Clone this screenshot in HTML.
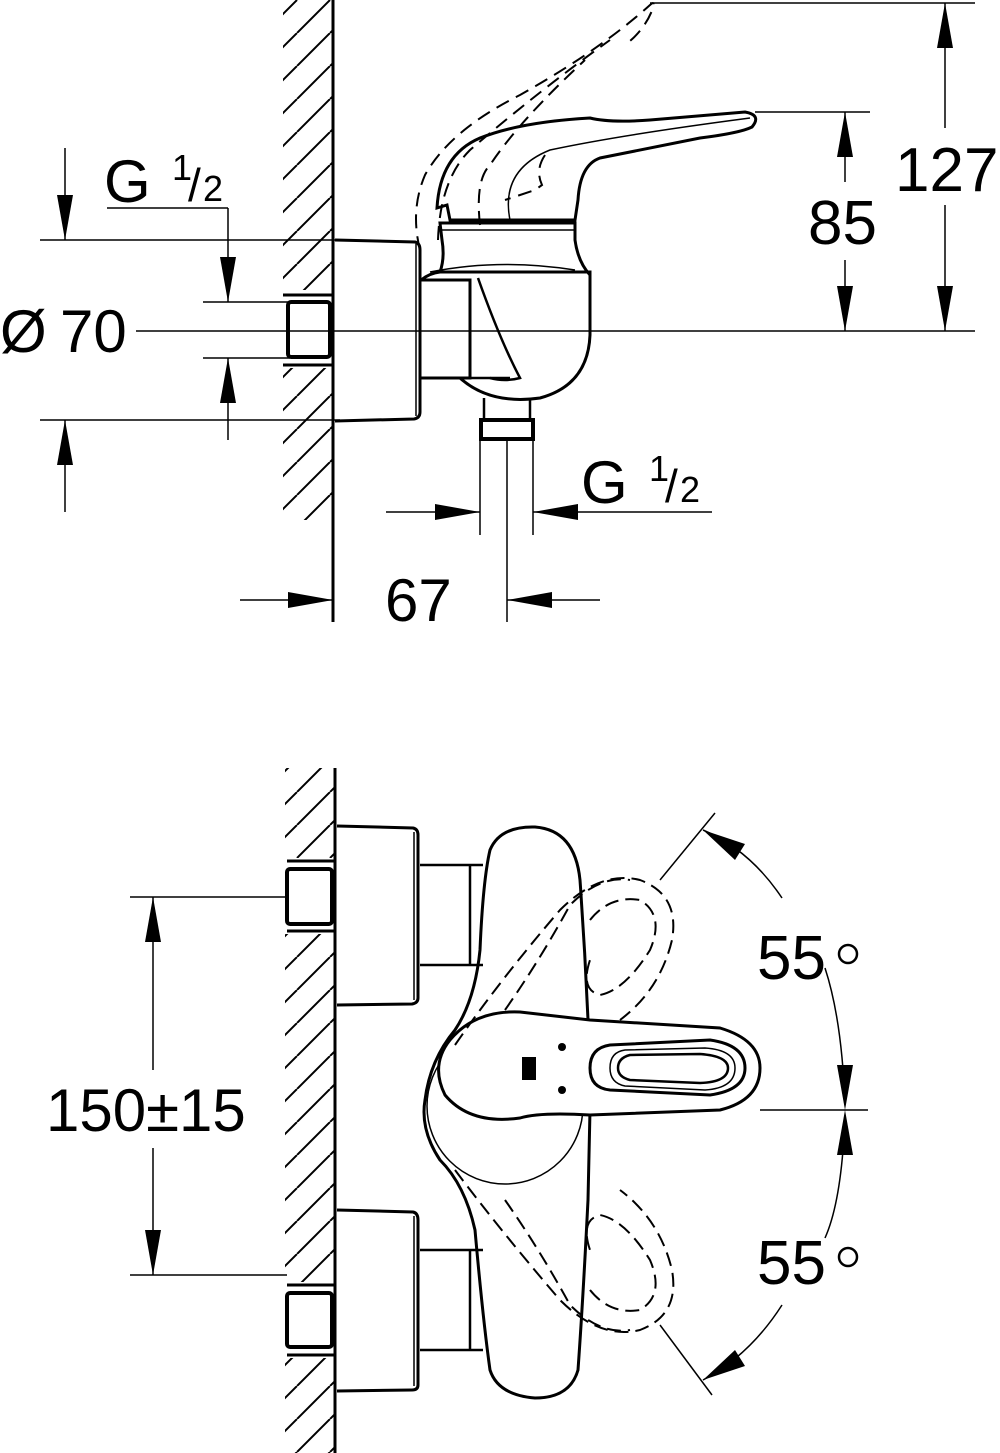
<!DOCTYPE html>
<html><head><meta charset="utf-8"><style>
html,body{margin:0;padding:0;background:#fff}
svg{display:block}
text{font-family:"Liberation Sans",sans-serif;fill:#000}
</style></head><body>
<svg width="1000" height="1453" viewBox="0 0 1000 1453" xmlns="http://www.w3.org/2000/svg">
<defs>
<pattern id="h" width="33" height="33" patternUnits="userSpaceOnUse">
<line x1="0" y1="33" x2="33" y2="0" stroke="#000" stroke-width="2"/>
<line x1="-33" y1="33" x2="0" y2="0" stroke="#000" stroke-width="2"/>
<line x1="33" y1="33" x2="66" y2="0" stroke="#000" stroke-width="2"/>
</pattern>
</defs>
<g fill="none" stroke="#000" stroke-width="2">
<!-- ===== TOP VIEW ===== -->
<rect x="283" y="0" width="50" height="520" fill="url(#h)" stroke="none"/>
<rect x="283" y="290" width="52" height="78" fill="#fff" stroke="none"/>
<line x1="333" y1="0" x2="333" y2="622" stroke-width="3"/>
<line x1="283" y1="295" x2="333" y2="295" stroke-width="3"/>
<line x1="283" y1="365" x2="333" y2="365" stroke-width="3"/>
<rect x="288" y="302" width="42" height="55" rx="3" stroke-width="4"/>
<line x1="40" y1="240" x2="340" y2="240" stroke-width="1.5"/>
<line x1="40" y1="420" x2="340" y2="420" stroke-width="1.5"/>
<line x1="65" y1="148" x2="65" y2="240" stroke-width="1.5"/>
<line x1="65" y1="420" x2="65" y2="512" stroke-width="1.5"/>
<line x1="107" y1="208" x2="228" y2="208" stroke-width="1.5"/>
<line x1="228" y1="208" x2="228" y2="302" stroke-width="1.5"/>
<line x1="228" y1="358" x2="228" y2="440" stroke-width="1.5"/>
<line x1="203" y1="302" x2="290" y2="302" stroke-width="1.5"/>
<line x1="203" y1="358" x2="290" y2="358" stroke-width="1.5"/>
<line x1="136" y1="331" x2="975" y2="331" stroke-width="1.5"/>
<path d="M335 240 L415 242 Q420 243 420 250 L420 412 Q420 418 414 419 L335 421" stroke-width="3"/>
<line x1="416" y1="244" x2="416" y2="416" stroke-width="1.5"/>
<path d="M421 280 L470 280 L470 378 L421 378" stroke-width="3"/>
<path d="M421 280 Q430 273 440 272 L590 272 L590 335 Q588 385 540 398 Q490 405 460 378" stroke-width="3"/>
<path d="M440 272 Q445 258 442 240 L440 223 L575 223 L575 240 Q578 262 590 275" stroke-width="3"/>
<line x1="440" y1="230" x2="575" y2="230" stroke-width="1.5"/>
<path d="M430 272 Q500 258 575 270" stroke-width="1.5"/>
<path d="M478 278 Q500 340 520 378 Q505 382 490 378" stroke-width="2.5"/>
<path d="M470 378 L510 378" stroke-width="2.5"/>
<path d="M437 208 Q440 155 480 138 Q520 122 590 118 Q610 123 650 120 L745 112 Q762 115 752 127 Q740 133 700 138 L600 158 Q580 165 578 200 L575 220 L450 220 L447 205 Z" stroke-width="3" fill="#fff"/>
<path d="M510 220 Q500 170 550 150 Q620 135 750 118" stroke-width="1.5"/>
<g stroke-dasharray="14,8" stroke-width="2">
<path d="M420 250 Q410 210 425 175 Q450 130 520 95 Q600 50 650 5 Q655 0 653 8 Q645 30 625 45"/>
<path d="M438 240 Q440 180 470 150 Q540 90 610 40"/>
<path d="M480 225 Q475 180 490 165 Q520 120 585 60"/>
<path d="M545 155 Q535 170 542 185 L535 190 L505 200"/>
</g>
<line x1="484" y1="398" x2="484" y2="418" stroke-width="2.5"/>
<line x1="530" y1="398" x2="530" y2="418" stroke-width="2.5"/>
<rect x="481" y="420" width="52" height="19" stroke-width="4"/>
<line x1="480" y1="440" x2="480" y2="535" stroke-width="1.5"/>
<line x1="533" y1="440" x2="533" y2="535" stroke-width="1.5"/>
<line x1="507" y1="440" x2="507" y2="622" stroke-width="1.5"/>
<line x1="386" y1="512" x2="480" y2="512" stroke-width="1.5"/>
<line x1="533" y1="512" x2="712" y2="512" stroke-width="1.5"/>
<line x1="240" y1="600" x2="333" y2="600" stroke-width="1.5"/>
<line x1="507" y1="600" x2="600" y2="600" stroke-width="1.5"/>
<line x1="650" y1="3" x2="975" y2="3" stroke-width="1.5"/>
<line x1="755" y1="112" x2="870" y2="112" stroke-width="1.5"/>
<line x1="945" y1="3" x2="945" y2="128" stroke-width="1.5"/>
<line x1="945" y1="205" x2="945" y2="331" stroke-width="1.5"/>
<line x1="845" y1="112" x2="845" y2="182" stroke-width="1.5"/>
<line x1="845" y1="260" x2="845" y2="331" stroke-width="1.5"/>

<!-- ===== BOTTOM VIEW ===== -->
<rect x="285" y="768" width="50" height="685" fill="url(#h)" stroke="none"/>
<rect x="283" y="858" width="52" height="76" fill="#fff" stroke="none"/>
<rect x="283" y="1282" width="52" height="76" fill="#fff" stroke="none"/>
<line x1="335" y1="768" x2="335" y2="1453" stroke-width="3"/>
<line x1="287" y1="861" x2="335" y2="861" stroke-width="3"/>
<line x1="287" y1="931" x2="335" y2="931" stroke-width="3"/>
<line x1="287" y1="1285" x2="335" y2="1285" stroke-width="3"/>
<line x1="287" y1="1355" x2="335" y2="1355" stroke-width="3"/>
<rect x="287" y="869" width="45" height="55" rx="3" stroke-width="4"/>
<rect x="287" y="1293" width="45" height="54" rx="3" stroke-width="4"/>
<path d="M337 826 L413 828 Q418 829 418 835 L418 998 Q418 1003 412 1004 L337 1005" stroke-width="3"/>
<path d="M337 1210 L413 1212 Q418 1213 418 1220 L418 1385 Q418 1390 412 1390 L337 1391" stroke-width="3"/>
<line x1="414" y1="832" x2="414" y2="1000" stroke-width="1.5"/>
<line x1="414" y1="1216" x2="414" y2="1386" stroke-width="1.5"/>
<path d="M420 865 L483 865 M420 965 L483 965 M470 865 L470 965" stroke-width="2.5"/>
<path d="M420 1250 L483 1250 M420 1350 L483 1350 M470 1250 L470 1350" stroke-width="2.5"/>
<path d="M490 850 Q500 826 535 827 Q575 830 580 880 Q585 950 588 1020 L590 1110 L588 1200 Q583 1300 578 1370 Q570 1398 535 1398 Q498 1395 490 1370 Q483 1320 475 1230 Q465 1185 440 1160 Q420 1130 425 1100 Q430 1060 455 1030 Q475 1000 480 950 Q483 880 490 850 Z" stroke-width="3"/>
<circle cx="505" cy="1106" r="78" stroke-width="1.5"/>
<path d="M590 1020 L720 1028 Q760 1040 760 1068 Q760 1100 720 1110 L590 1115 Q540 1112 520 1118 Q470 1125 445 1095 Q430 1065 450 1040 Q475 1010 520 1012 Q545 1015 590 1020 Z" stroke-width="3" fill="#fff"/>
<path d="M610 1045 L710 1040 Q745 1045 745 1068 Q745 1090 710 1095 L610 1090 Q590 1088 590 1068 Q590 1048 610 1045 Z" stroke-width="3"/>
<path d="M625 1050 L705 1048 Q735 1050 735 1068 Q735 1088 705 1090 L625 1086 Q610 1083 610 1068 Q610 1052 625 1050 Z" stroke-width="1.5"/>
<path d="M630 1055 L700 1054 Q728 1056 728 1068 Q728 1082 700 1083 L630 1080 Q618 1077 618 1068 Q618 1058 630 1055 Z" stroke-width="2.5"/>
<circle cx="562" cy="1047" r="4" fill="#000" stroke="none"/>
<circle cx="562" cy="1090" r="4" fill="#000" stroke="none"/>
<rect x="522" y="1057" width="14" height="23" fill="#000" stroke="none"/>
<g stroke-dasharray="14,7" stroke-width="2">
<path d="M455 1045 Q500 980 560 910 Q600 870 640 880 Q680 895 672 940 Q660 990 620 1020"/>
<path d="M505 1010 Q540 960 570 905 Q600 875 630 880"/>
<path d="M590 920 Q610 895 640 900 Q665 915 650 950 Q625 990 600 995 Q580 990 590 960"/>
<path d="M455 1170 Q500 1230 560 1300 Q600 1340 640 1330 Q680 1315 672 1270 Q660 1220 620 1190"/>
<path d="M505 1200 Q540 1250 570 1305 Q600 1335 630 1330"/>
<path d="M590 1290 Q610 1315 640 1310 Q665 1295 650 1260 Q625 1220 600 1215 Q580 1220 590 1250"/>
</g>
<line x1="715" y1="813" x2="660" y2="880" stroke-width="1.5"/>
<line x1="660" y1="1325" x2="712" y2="1395" stroke-width="1.5"/>
<path d="M703 830 Q750 850 782 898" stroke-width="1.5"/>
<path d="M825 968 Q842 1020 845 1105" stroke-width="1.5"/>
<path d="M845 1115 Q842 1200 825 1238" stroke-width="1.5"/>
<path d="M782 1305 Q750 1355 703 1380" stroke-width="1.5"/>
<line x1="760" y1="1110" x2="868" y2="1110" stroke-width="1.5"/>
<line x1="130" y1="897" x2="287" y2="897" stroke-width="1.5"/>
<line x1="130" y1="1275" x2="287" y2="1275" stroke-width="1.5"/>
<line x1="153" y1="897" x2="153" y2="1070" stroke-width="1.5"/>
<line x1="153" y1="1148" x2="153" y2="1275" stroke-width="1.5"/>
<!-- degree circles -->
<circle cx="848" cy="954" r="9" stroke-width="2.5"/>
<circle cx="848" cy="1257" r="9" stroke-width="2.5"/>
</g>
<g fill="#000">
<polygon points="65,240 57,195 73,195"/>
<polygon points="65,420 57,465 73,465"/>
<polygon points="228,302 220,257 236,257"/>
<polygon points="228,358 220,403 236,403"/>
<polygon points="480,512 435,504 435,520"/>
<polygon points="533,512 578,504 578,520"/>
<polygon points="333,600 288,592 288,608"/>
<polygon points="507,600 552,592 552,608"/>
<polygon points="945,3 937,48 953,48"/>
<polygon points="945,331 937,286 953,286"/>
<polygon points="845,112 837,157 853,157"/>
<polygon points="845,331 837,286 853,286"/>
<polygon points="153,897 145,942 161,942"/>
<polygon points="153,1275 145,1230 161,1230"/>
<polygon points="845,1110 837,1065 853,1065"/>
<polygon points="845,1110 837,1155 853,1155"/>
<polygon points="703,830 745,844 735,860"/>
<polygon points="703,1380 745,1366 735,1350"/>
</g>
<text x="104" y="202" font-size="60">G</text>
<text x="172" y="180" font-size="36">1</text>
<text x="188" y="201" font-size="46">/</text>
<text x="203" y="201" font-size="36">2</text>
<text x="0" y="352" font-size="60">Ø</text>
<text x="60" y="352" font-size="60">70</text>
<text x="581" y="503" font-size="60">G</text>
<text x="649" y="481" font-size="36">1</text>
<text x="665" y="502" font-size="46">/</text>
<text x="680" y="502" font-size="36">2</text>
<text x="385" y="621" font-size="60">67</text>
<text x="895" y="191" font-size="62">127</text>
<text x="808" y="244" font-size="62">85</text>
<text x="46" y="1131" font-size="60">150±15</text>
<text x="757" y="979" font-size="62">55</text>
<text x="757" y="1284" font-size="62">55</text>
</svg>
</body></html>
